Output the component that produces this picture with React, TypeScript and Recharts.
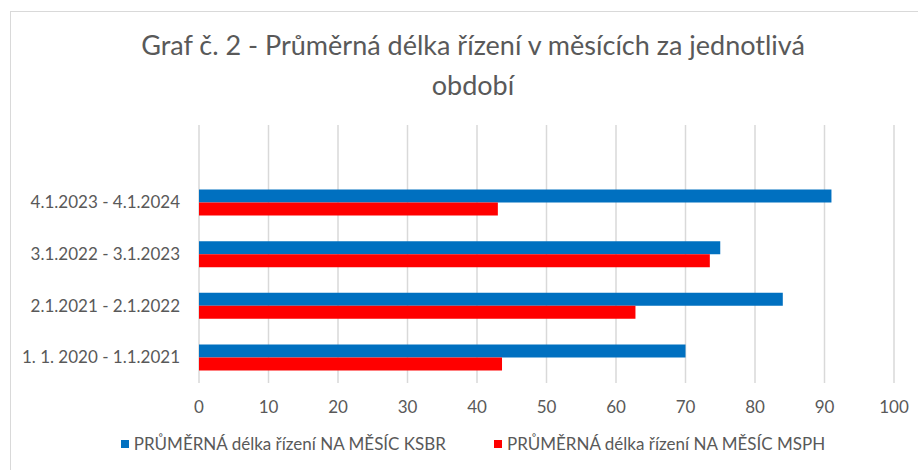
import { Bar, BarChart, CartesianGrid, XAxis, YAxis } from "recharts";

// bottom-to-top like the original sheet; last row is an empty slot
const periods = [
  "1. 1. 2020 - 1.1.2021",
  "2.1.2021 - 2.1.2022",
  "3.1.2022 - 3.1.2023",
  "4.1.2023 - 4.1.2024",
  "",
];
const ksbr = [70, 84, 75, 91, null];
const msph = [43.6, 62.8, 73.5, 43, null];
const xTicks = [0, 10, 20, 30, 40, 50, 60, 70, 80, 90, 100];

const seriesKsbr = "PRŮMĚRNÁ délka řízení NA MĚSÍC KSBR";
const seriesMsph = "PRŮMĚRNÁ délka řízení NA MĚSÍC MSPH";

const FONT = "Lato, 'Noto Sans', sans-serif";
const INK = "#595959";
const BLUE = "#0070C0";
const RED = "#FF0000";

const data = periods.map((p, i) => ({ period: p, ksbr: ksbr[i], msph: msph[i] }));

function LegendBox() {
  const item = (color: string, label: string) => (
    <span style={{ display: "inline-flex", alignItems: "center", margin: "0 24px" }}>
      <span style={{ width: 8, height: 8, background: color, marginRight: 5 }} />
      <span>{label}</span>
    </span>
  );
  return (
    <div
      style={{
        position: "absolute",
        left: 0,
        top: 431,
        width: 946,
        textAlign: "center",
        fontFamily: FONT,
        fontSize: 17,
        lineHeight: "22px",
        color: INK,
      }}
    >
      {item(BLUE, seriesKsbr)}
      {item(RED, seriesMsph)}
    </div>
  );
}

export default function App() {
  return (
    <div style={{ position: "absolute", left: 0, top: 0, width: 918, height: 470, background: "#fff", overflow: "hidden" }}>
      <div
        style={{
          position: "absolute",
          left: 10,
          top: 11,
          width: 940,
          height: 500,
          border: "1px solid #d9d9d9",
        }}
      />
      <div
        style={{
          position: "absolute",
          left: 0,
          top: 25,
          width: 946,
          textAlign: "center",
          fontFamily: FONT,
          fontSize: 27,
          lineHeight: "40px",
          color: INK,
        }}
      >
        Graf č. 2 - Průměrná délka řízení v měsících za jednotlivá
        <br />
        období
      </div>
      <div style={{ position: "absolute", left: 0, top: 0 }}>
        <BarChart
          width={918}
          height={470}
          data={data}
          layout="vertical"
          margin={{ top: 125, right: 24, bottom: 0, left: 0 }}
          barGap={0}
        >
          <CartesianGrid horizontal={false} stroke="#d9d9d9" strokeWidth={1.5} />
          <XAxis
            type="number"
            domain={[0, 100]}
            ticks={xTicks}
            axisLine={false}
            tickLine={false}
            tickSize={0}
            tickMargin={18}
            tick={{ fill: INK, fontSize: 17, fontFamily: FONT }}
            height={87}
          />
          <YAxis
            type="category"
            dataKey="period"
            reversed
            width={199}
            axisLine={false}
            tickLine={false}
            tickSize={0}
            tickMargin={19}
            interval={0}
            tick={{ fill: INK, fontSize: 17, fontFamily: FONT }}
          />
          <Bar dataKey="ksbr" name={seriesKsbr} fill={BLUE} barSize={13} isAnimationActive={false} />
          <Bar dataKey="msph" name={seriesMsph} fill={RED} barSize={13} isAnimationActive={false} />
        </BarChart>
      </div>
      <LegendBox />
    </div>
  );
}
